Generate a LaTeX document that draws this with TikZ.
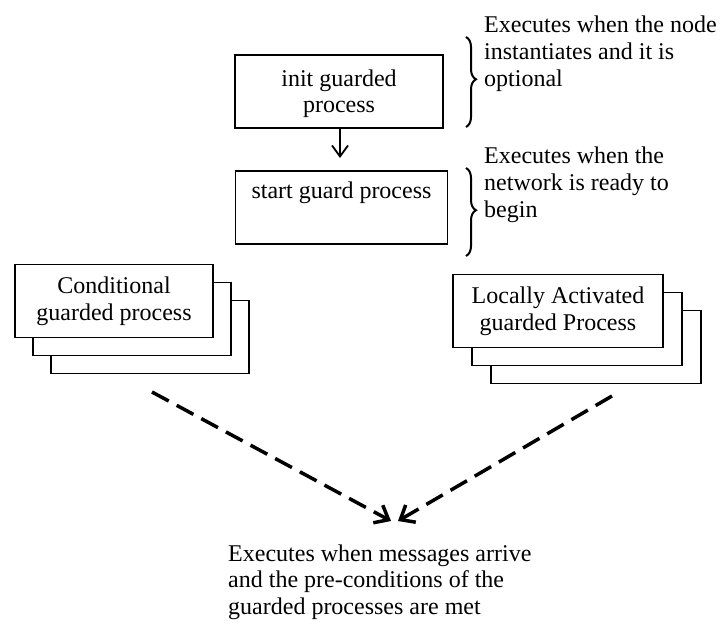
\documentclass[tikz,border=0pt]{standalone}
\usepackage{fontspec}
\setmainfont{Liberation Serif}
\usetikzlibrary{arrows.meta,decorations.pathreplacing}

\begin{document}
\begin{tikzpicture}[x=1pt,y=-1pt,
  every node/.style={font=\fontsize{24}{27}\selectfont},
  procbox/.style={draw, line width=1.8pt, fill=white, align=center,
    minimum width=#1, inner sep=4pt},
  note/.style={align=left, inner sep=0pt, anchor=base west},
  stepflow/.style={line width=1.8pt, -{Straight Barb[length=11pt,width=16pt]}},
  trigger/.style={line width=3.5pt, dash pattern=on 19pt off 9pt,
    -{Straight Barb[length=12pt,width=20pt,line width=3.5pt]}},
  scope brace/.style={line width=2pt, decorate,
    decoration={brace, amplitude=10pt, aspect=#1}}
]
\useasboundingbox (0,0) rectangle (726,626);

% initialisation and start stages
\node[procbox=208pt, minimum height=73pt, text height=48pt, text depth=5pt]
  (init) at (339,91.5) {init guarded\\process};
\node[procbox=212pt, minimum height=73pt, anchor=north,
      text height=20pt, text depth=37pt, inner ysep=8pt] (start) at (341.5,170)
  {start guard process};
\coordinate (startin) at (340,158);
\draw[stepflow] (init.south -| startin) -- (startin);

% conditional guarded processes (stack of three)
\node[procbox=198pt, minimum height=73pt] (cond3) at (150,337) {};
\node[procbox=198pt, minimum height=73pt] (cond2) at (132,319) {};
\node[procbox=198pt, minimum height=73pt] (cond1) at (114,301)
  {Conditional\\guarded process};

% locally activated guarded processes (stack of three)
\node[procbox=210pt, minimum height=73pt] (local3) at (596,347) {};
\node[procbox=210pt, minimum height=73pt] (local2) at (577,329) {};
\node[procbox=210pt, minimum height=73pt] (local1) at (558,311)
  {Locally Activated\\guarded Process};

% explanatory notes with braces (anchored at the last baseline)
\node[note] (initnote) at (484,86)
  {Executes when the node\\instantiates and it is\\optional};
\draw[scope brace=0.47] (466,37) -- (466,127);

\node[note] (startnote) at (484,217)
  {Executes when the\\network is ready to\\begin};
\draw[scope brace=0.48] (466,168) -- (466,256);

% both kinds of process run on message arrival
\coordinate (condtail) at (152,392);
\coordinate (localtail) at (612,396);
\coordinate (condtip) at (391,521);
\coordinate (localtip) at (398,521);
\draw[trigger] (condtail) -- (condtip);
\draw[trigger] (localtail) -- (localtip);

\node[note, font=\fontsize{24}{26.5}\selectfont] (msgnote) at (228,614)
  {Executes when messages arrive\\and the pre-conditions of the\\guarded processes are met};
\end{tikzpicture}
\end{document}
